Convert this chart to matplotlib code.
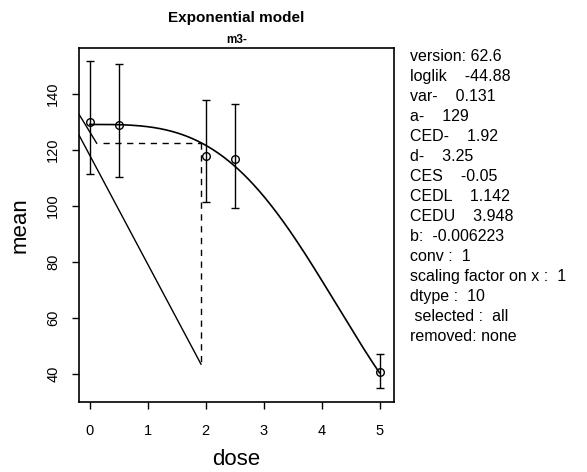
#!/usr/bin/env python3

import numpy as np
import matplotlib
matplotlib.use("Agg")
import matplotlib.pyplot as plt

plt.rcParams["font.family"] = ["Liberation Sans", "DejaVu Sans"]

# observed group means with their confidence limits
dose = [0, 0.5, 2, 2.5, 5]
mean = [130.0, 128.7, 117.8, 116.6, 40.7]
lower = [111.4, 110.1, 101.2, 99.3, 35.0]
upper = [151.8, 150.7, 137.8, 136.3, 46.9]

# fitted model parameters: y = a * exp(b * x^d)
a = 129
b = -0.006223
d = 3.25
CES = -0.05
CED = 1.92
CEDL = 1.142
CEDU = 3.948

# extra solid segments drawn at the left of the panel
seg1_x = [-0.19, 0.12]
seg1_y = [132.8, 122.3]
seg2_x = [-0.185, 1.92]
seg2_y = [125.2, 43.4]
ced_start = 0.23
ced_bottom = 43.4

info = [
    "version: 62.6",
    "loglik    -44.88",
    "var-    0.131",
    "a-    129",
    "CED-    1.92",
    "d-    3.25",
    "CES    -0.05",
    "CEDL    1.142",
    "CEDU    3.948",
    "b:  -0.006223",
    "conv :  1",
    "scaling factor on x :  1",
    "dtype :  10",
    " selected :  all",
    "removed: none",
]


def main():
    fig = plt.figure(figsize=(5.87, 4.72), dpi=100)
    ax = fig.add_axes([79 / 587, 70 / 472, 315 / 587, 354 / 472])

    # model curve
    xs = np.linspace(0, 5, 400)
    ax.plot(xs, a * np.exp(b * xs ** d), color="black", lw=1.2)

    # data with error bars
    m = np.array(mean)
    ax.errorbar(dose, mean, yerr=[m - np.array(lower), np.array(upper) - m],
                fmt="o", mfc="none", mec="black", ecolor="black", color="black",
                ms=5.5, mew=1, elinewidth=1, capsize=3.2, capthick=1)

    # CED lines
    ced_y = a * (1 + CES)
    ax.plot([ced_start, CED], [ced_y, ced_y], color="black", lw=1, ls=(0, (4.5, 4)))
    ax.plot([CED, CED], [ced_y, ced_bottom], color="black", lw=1, ls=(0, (4.5, 4)))

    ax.plot(seg1_x, seg1_y, color="black", lw=1)
    ax.plot(seg2_x, seg2_y, color="black", lw=1)

    ax.set_xlim(-0.185, 5.25)
    ax.set_ylim(29.9, 156.3)
    ax.set_xticks([0, 1, 2, 3, 4, 5])
    ax.set_yticks([40, 60, 80, 100, 120, 140])
    for s in ax.spines.values():
        s.set_linewidth(1.2)
    ax.tick_params(direction="out", length=5, width=1, labelsize=10.5)
    ax.tick_params(axis="x", pad=10.5)
    ax.tick_params(axis="y", pad=8.5, labelrotation=90)
    for lab in ax.get_yticklabels():
        lab.set_va("center")

    ax.set_xlabel("dose", fontsize=16)
    ax.xaxis.set_label_coords(0.5, -0.1638)
    ax.xaxis.label.set_va("center")
    ax.set_ylabel("mean", fontsize=16)
    ax.yaxis.set_label_coords(-0.1873, 0.5)
    ax.yaxis.label.set_va("center")

    fig.text(236.5 / 587, 1 - 18 / 472, "Exponential model", ha="center", va="center",
             fontsize=11, fontweight="bold")
    fig.text(236.5 / 587, 1 - 40 / 472, "m3-", ha="center", va="center",
             fontsize=8.5, fontweight="bold")

    for i, line in enumerate(info):
        fig.text(410 / 587, 1 - (56.7 + i * 20.0) / 472, line, ha="left", va="center",
                 fontsize=11.5)

    fig.savefig("out.png", dpi=100)


if __name__ == "__main__":
    main()
